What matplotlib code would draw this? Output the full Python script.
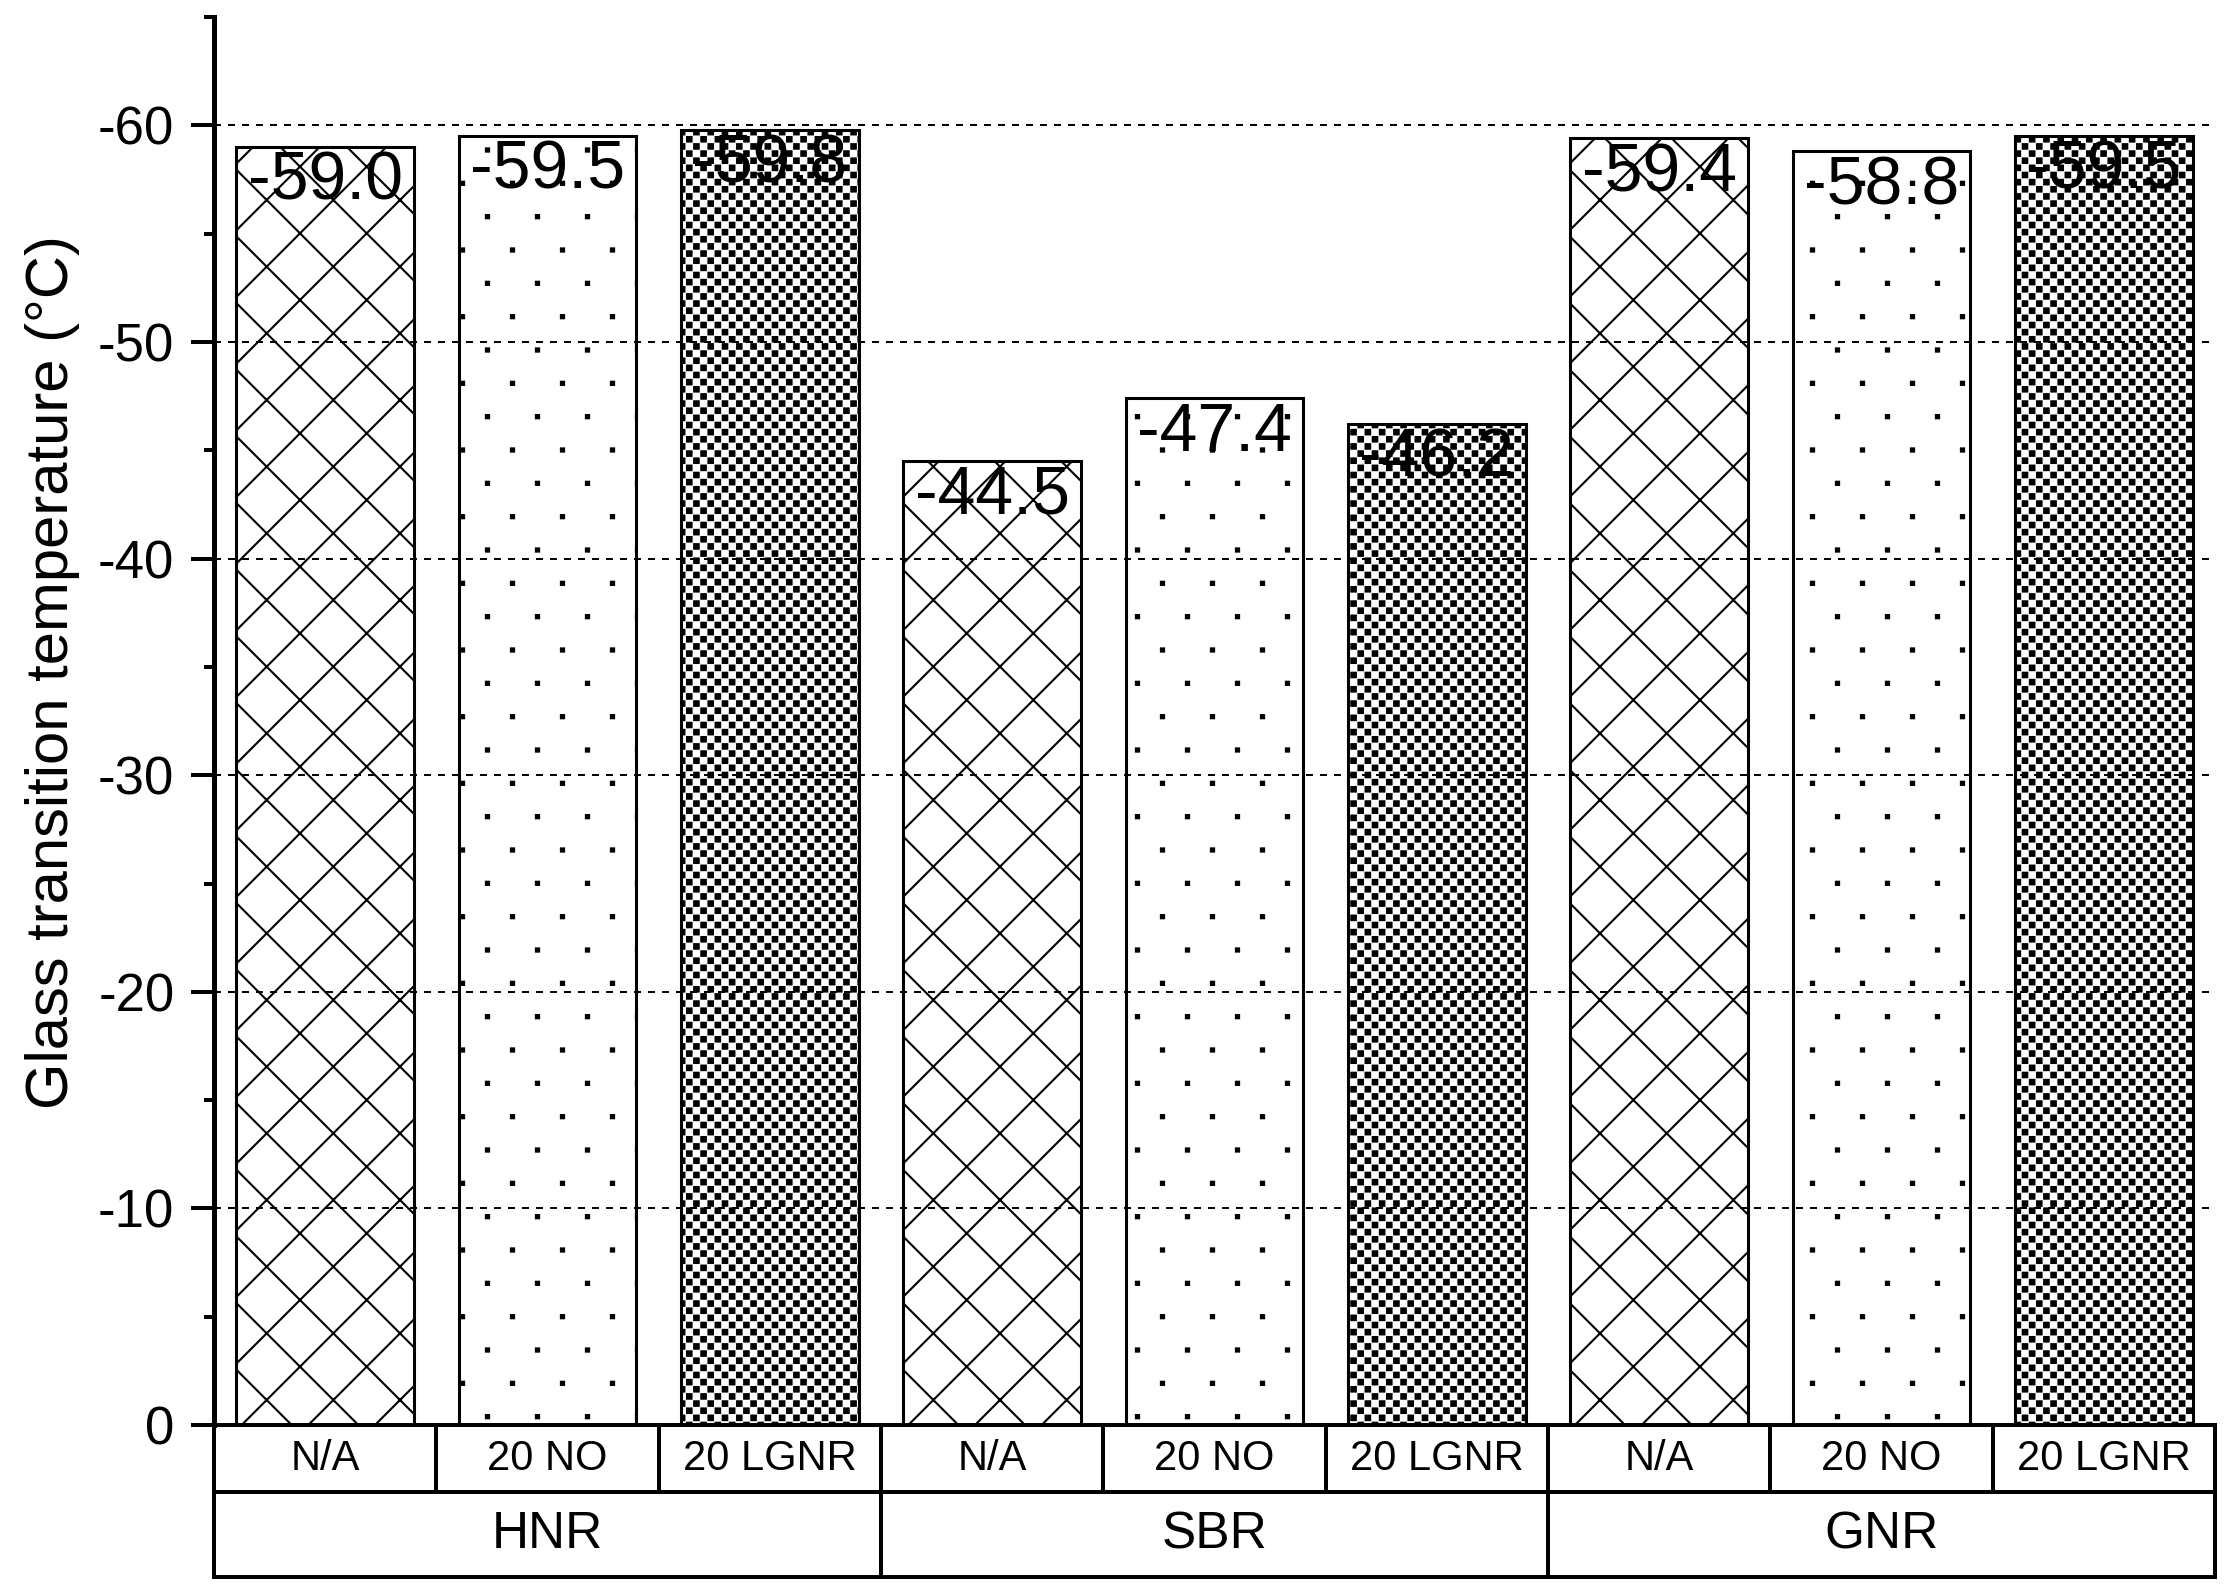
import warnings
import numpy as np
import matplotlib
matplotlib.use('Agg')
import matplotlib.pyplot as plt
from matplotlib import hatch as mhatch
from matplotlib.path import Path
from matplotlib.ticker import MultipleLocator

warnings.filterwarnings('ignore')

groups = ['HNR', 'SBR', 'GNR']
fillers = ['N/A', '20 NO', '20 LGNR']
tg = [-59.0, -59.5, -59.8, -44.5, -47.4, -46.2, -59.4, -58.8, -59.5]

# ':' = sparse staggered dots, '#' = fine checkerboard (custom hatches below)
hatches = {'N/A': 'x', '20 NO': ':', '20 LGNR': '#'}


class SquareHatch(mhatch.HatchPatternBase):
    """Small filled squares on a lattice, inside the 1-inch hatch tile."""
    char = None

    def __init__(self, hatch, density):
        self.on = hatch.count(self.char) > 0
        self.centers = self.lattice() if self.on else []
        self.num_vertices = 5 * len(self.centers)

    def set_vertices_and_codes(self, vertices, codes):
        h = self.side / 2
        for k, (cx, cy) in enumerate(self.centers):
            vertices[5 * k:5 * k + 5] = [(cx - h, cy - h), (cx + h, cy - h),
                                         (cx + h, cy + h), (cx - h, cy + h),
                                         (cx - h, cy - h)]
            codes[5 * k:5 * k + 5] = [Path.MOVETO, Path.LINETO, Path.LINETO,
                                      Path.LINETO, Path.CLOSEPOLY]


class SparseDots(SquareHatch):
    char = ':'
    side = 0.016

    def lattice(self):
        pts = []
        for r in range(6):
            shift = 0.125 if r % 2 else 0.0
            for c in range(4):
                pts.append(((c * 0.25 + shift) % 1.0 + 0.0625, r / 6 + 1 / 12))
        return pts


class Checker(SquareHatch):
    char = '#'
    n = 28
    side = 1 / 28 - 0.013

    def lattice(self):
        return [((i + 0.5) / self.n, (j + 0.5) / self.n)
                for i in range(self.n) for j in range(self.n) if (i + j) % 2 == 0]


mhatch._hatch_types.extend([SparseDots, Checker])

plt.rcParams['font.family'] = ['Liberation Sans', 'DejaVu Sans']
plt.rcParams['axes.unicode_minus'] = False
plt.rcParams['hatch.linewidth'] = 0.75

fig = plt.figure(figsize=(11.18, 7.98), dpi=200)
ax = fig.add_axes([0.0957, 0.1071, 0.8949, 0.8822])

x = np.arange(len(tg))
bars = ax.bar(x, tg, width=0.8, color='white', edgecolor='black', linewidth=1.1, zorder=1)
for i, b in enumerate(bars):
    b.set_hatch(hatches[fillers[i % len(fillers)]])

# value labels just inside the top of each bar
for xi, v in zip(x, tg):
    ax.text(xi, v + 1.6, '%.1f' % v, ha='center', va='center', fontsize=24.5, zorder=5)

ax.set_xlim(-0.5, len(tg) - 0.5)
ax.set_ylim(0, -65)
ax.set_xticks([])
ax.yaxis.set_major_locator(MultipleLocator(10))
ax.yaxis.set_minor_locator(MultipleLocator(5))
ax.tick_params(axis='y', which='major', length=8.3, width=1.44, labelsize=19, pad=6)
ax.tick_params(axis='y', which='minor', length=3.6, width=1.44)

ax.set_axisbelow(False)
ax.yaxis.grid(True, which='major', color='black', lw=0.72, linestyle=(0, (3.5, 3.5)))

ax.spines['top'].set_visible(False)
ax.spines['right'].set_visible(False)
ax.spines['left'].set_linewidth(1.8)
ax.spines['bottom'].set_linewidth(1.44)

ax.set_ylabel('Glass transition temperature (°C)', fontsize=21.5)
ax.yaxis.set_label_coords(-0.067, 0.535)

# two-row category table below the axis
tr = ax.get_xaxis_transform()
r1 = -0.0476
r2 = -0.108
kw = dict(color='black', lw=1.44, transform=tr, clip_on=False, solid_capstyle='projecting')
ax.plot([-0.5, len(tg) - 0.5], [r1, r1], **kw)
ax.plot([-0.5, len(tg) - 0.5], [r2, r2], **kw)
for k in range(len(tg) + 1):
    bottom = r2 if k % len(fillers) == 0 else r1
    ax.plot([k - 0.5, k - 0.5], [0, bottom], **kw)

for i in range(len(tg)):
    ax.text(i, r1 / 2, fillers[i % len(fillers)], transform=tr, ha='center', va='center', fontsize=15)
for g, name in enumerate(groups):
    xc = g * len(fillers) + (len(fillers) - 1) / 2
    ax.text(xc, (r1 + r2) / 2, name, transform=tr, ha='center', va='center', fontsize=18.5)

fig.savefig('out.png', dpi=200)
